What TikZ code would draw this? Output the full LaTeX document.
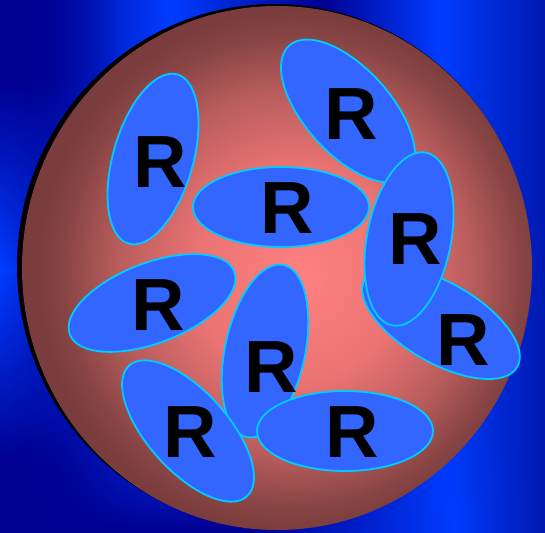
\documentclass[tikz,border=0pt]{standalone}
\usepackage{fontspec}
\setmainfont{Liberation Sans}
\usetikzlibrary{fadings}

\definecolor{navy}{RGB}{0,0,145}
\definecolor{bright}{RGB}{0,60,255}
\definecolor{midblue}{RGB}{0,24,176}
\definecolor{glowcore}{RGB}{255,128,128}
\definecolor{glowmid}{RGB}{236,116,116}
\definecolor{glowdeep}{RGB}{184,92,92}
\definecolor{glowrim}{RGB}{136,68,68}
\definecolor{rimbrown}{RGB}{122,60,60}
\definecolor{cellblue}{RGB}{51,102,255}
\definecolor{cellrim}{RGB}{0,204,255}

\pgfdeclareverticalshading{leftglow}{100bp}{color(0bp)=(navy); color(30.8bp)=(navy);
  color(49.6bp)=(bright); color(67.5bp)=(navy); color(100bp)=(navy)}
\pgfdeclarehorizontalshading{bottomglow}{100bp}{color(0bp)=(navy); color(47.9bp)=(navy);
  color(66.7bp)=(bright); color(75bp)=(midblue); color(100bp)=(midblue)}
\pgfdeclareradialshading{redglow}{\pgfpoint{2.7bp}{-0.7bp}}{color(0bp)=(glowcore);
  color(10bp)=(glowmid); color(17.5bp)=(glowdeep); color(22.5bp)=(glowrim);
  color(25bp)=(rimbrown); color(50bp)=(rimbrown)}

\begin{document}
\begin{tikzpicture}[x=1pt, y=-1pt,
  cell/.style={draw=cellrim, fill=cellblue, line width=1.8pt},
  letter/.style={font=\fontsize{74}{74}\selectfont\bfseries, text=black, inner sep=0pt},
]
  \useasboundingbox (0,0) rectangle (545,532);
  % blue backdrop
  \fill[navy] (0,0) rectangle (30.5,532);
  \shade[left color=navy, right color=bright] (30,0) rectangle (170.5,532);
  \shade[left color=bright, right color=navy] (170,0) rectangle (320.5,532);
  \shade[left color=navy, right color=bright] (320,0) rectangle (440.5,532);
  \shade[left color=bright, right color=midblue] (440,0) rectangle (545,532);
  \shade[shading=leftglow, path fading=east] (0,0) rectangle (120,532);
  \shade[shading=bottomglow, path fading=north] (0,420) rectangle (545,532);
  % the disc
  \fill[black] (274,266) ellipse [x radius=257, y radius=262];
  \shade[shading=redglow] (277,268) ellipse [x radius=255, y radius=262];
  % the cells
  \draw[cell, rotate around={74:(153,159)}] (153,159) ellipse [x radius=88, y radius=40];
  \draw[cell, rotate around={-48:(348,111)}] (348,111) ellipse [x radius=88, y radius=43];
  \draw[cell] (281,207) ellipse [x radius=88, y radius=40];
  \draw[cell, rotate around={-30:(441,323)}] (441,323) ellipse [x radius=88, y radius=40];
  \draw[cell, rotate around={79:(409,239)}] (409,239) ellipse [x radius=88, y radius=42];
  \draw[cell, rotate around={21:(152,303)}] (152,303) ellipse [x radius=88, y radius=40];
  \draw[cell, rotate around={78:(265,351)}] (265,351) ellipse [x radius=88, y radius=40];
  \draw[cell, rotate around={-48:(188,431)}] (188,431) ellipse [x radius=88, y radius=40];
  \draw[cell] (345,431) ellipse [x radius=88, y radius=40];
  % letters
  \node[letter] (nw)  at (160,162) {R};
  \node[letter] (ne)  at (351,114) {R};
  \node[letter] (mid) at (287,208) {R};
  \node[letter] (ea)  at (415,239) {R};
  \node[letter] (se)  at (463,340) {R};
  \node[letter] (we)  at (158,305) {R};
  \node[letter] (ctr) at (271,367) {R};
  \node[letter] (sw)  at (190,432) {R};
  \node[letter] (so)  at (352,432) {R};
\end{tikzpicture}
\end{document}
